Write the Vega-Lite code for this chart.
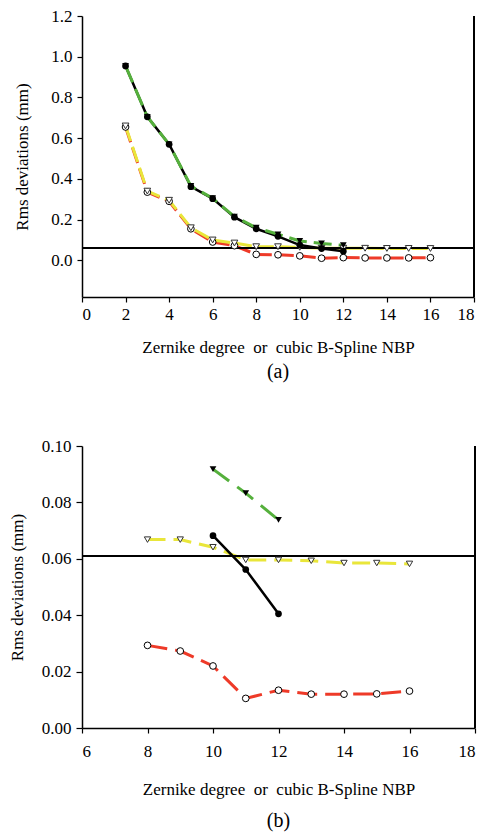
{
  "$schema": "https://vega.github.io/schema/vega-lite/v6.json",
  "background": "white",
  "padding": {"left": 8, "top": 7, "right": 5, "bottom": 5},
  "config": {
    "font": "Liberation Serif",
    "view": {"stroke": null},
    "axis": {
      "grid": false,
      "domainColor": "black",
      "domainWidth": 1.5,
      "tickColor": "black",
      "tickWidth": 1.2,
      "tickSize": 5,
      "labelFont": "Liberation Serif",
      "labelFontSize": 17,
      "labelColor": "black",
      "titleFont": "Liberation Serif",
      "titleFontSize": 17,
      "titleFontWeight": "normal",
      "titleColor": "black"
    },
    "title": {"font": "Liberation Serif", "fontWeight": "normal", "color": "black"}
  },
  "datasets": {
    "top": [
      {"s": "Zernike A", "x": 2, "y": 0.955}, {"s": "Zernike A", "x": 3, "y": 0.705}, {"s": "Zernike A", "x": 4, "y": 0.57},
      {"s": "Zernike A", "x": 5, "y": 0.365}, {"s": "Zernike A", "x": 6, "y": 0.305}, {"s": "Zernike A", "x": 7, "y": 0.215},
      {"s": "Zernike A", "x": 8, "y": 0.16}, {"s": "Zernike A", "x": 9, "y": 0.128}, {"s": "Zernike A", "x": 10, "y": 0.095},
      {"s": "Zernike A", "x": 11, "y": 0.083}, {"s": "Zernike A", "x": 12, "y": 0.074},
      {"s": "Zernike B", "x": 2, "y": 0.955}, {"s": "Zernike B", "x": 3, "y": 0.705}, {"s": "Zernike B", "x": 4, "y": 0.57},
      {"s": "Zernike B", "x": 5, "y": 0.362}, {"s": "Zernike B", "x": 6, "y": 0.303}, {"s": "Zernike B", "x": 7, "y": 0.212},
      {"s": "Zernike B", "x": 8, "y": 0.155}, {"s": "Zernike B", "x": 9, "y": 0.118}, {"s": "Zernike B", "x": 10, "y": 0.075},
      {"s": "Zernike B", "x": 11, "y": 0.058}, {"s": "Zernike B", "x": 12, "y": 0.045},
      {"s": "B-Spline A", "x": 2, "y": 0.66}, {"s": "B-Spline A", "x": 3, "y": 0.34}, {"s": "B-Spline A", "x": 4, "y": 0.295},
      {"s": "B-Spline A", "x": 5, "y": 0.16}, {"s": "B-Spline A", "x": 6, "y": 0.10}, {"s": "B-Spline A", "x": 7, "y": 0.085},
      {"s": "B-Spline A", "x": 8, "y": 0.067}, {"s": "B-Spline A", "x": 9, "y": 0.067}, {"s": "B-Spline A", "x": 10, "y": 0.064},
      {"s": "B-Spline A", "x": 11, "y": 0.0596}, {"s": "B-Spline A", "x": 12, "y": 0.0596}, {"s": "B-Spline A", "x": 13, "y": 0.0593},
      {"s": "B-Spline A", "x": 14, "y": 0.0585}, {"s": "B-Spline A", "x": 15, "y": 0.0585}, {"s": "B-Spline A", "x": 16, "y": 0.0582},
      {"s": "B-Spline B", "x": 2, "y": 0.655}, {"s": "B-Spline B", "x": 3, "y": 0.335}, {"s": "B-Spline B", "x": 4, "y": 0.29},
      {"s": "B-Spline B", "x": 5, "y": 0.155}, {"s": "B-Spline B", "x": 6, "y": 0.09}, {"s": "B-Spline B", "x": 7, "y": 0.072},
      {"s": "B-Spline B", "x": 8, "y": 0.0293}, {"s": "B-Spline B", "x": 9, "y": 0.0273}, {"s": "B-Spline B", "x": 10, "y": 0.022},
      {"s": "B-Spline B", "x": 11, "y": 0.0105}, {"s": "B-Spline B", "x": 12, "y": 0.0134}, {"s": "B-Spline B", "x": 13, "y": 0.012},
      {"s": "B-Spline B", "x": 14, "y": 0.012}, {"s": "B-Spline B", "x": 15, "y": 0.0121}, {"s": "B-Spline B", "x": 16, "y": 0.0131}
    ],
    "bottom": [
      {"s": "Zernike A", "x": 10, "y": 0.0918}, {"s": "Zernike A", "x": 11, "y": 0.0833}, {"s": "Zernike A", "x": 12, "y": 0.0738},
      {"s": "Zernike B", "x": 10, "y": 0.0682}, {"s": "Zernike B", "x": 11, "y": 0.0562}, {"s": "Zernike B", "x": 12, "y": 0.0405},
      {"s": "B-Spline A", "x": 8, "y": 0.0668}, {"s": "B-Spline A", "x": 9, "y": 0.0668}, {"s": "B-Spline A", "x": 10, "y": 0.0641},
      {"s": "B-Spline A", "x": 11, "y": 0.0596}, {"s": "B-Spline A", "x": 12, "y": 0.0596}, {"s": "B-Spline A", "x": 13, "y": 0.0593},
      {"s": "B-Spline A", "x": 14, "y": 0.0585}, {"s": "B-Spline A", "x": 15, "y": 0.0585}, {"s": "B-Spline A", "x": 16, "y": 0.0582},
      {"s": "B-Spline B", "x": 8, "y": 0.0293}, {"s": "B-Spline B", "x": 9, "y": 0.0273}, {"s": "B-Spline B", "x": 10, "y": 0.0220},
      {"s": "B-Spline B", "x": 11, "y": 0.0105}, {"s": "B-Spline B", "x": 12, "y": 0.0134}, {"s": "B-Spline B", "x": 13, "y": 0.0120},
      {"s": "B-Spline B", "x": 14, "y": 0.0120}, {"s": "B-Spline B", "x": 15, "y": 0.0121}, {"s": "B-Spline B", "x": 16, "y": 0.0131}
    ]
  },
  "spacing": 55,
  "vconcat": [
    {
      "width": 392,
      "height": 281,
      "title": {"text": "(a)", "orient": "bottom", "fontSize": 20, "offset": 7},
      "data": {"name": "top"},
      "layer": [
        {
          "transform": [{"filter": "datum.s === 'B-Spline B'"}],
          "mark": {"type": "line", "color": "#ee3a28", "strokeWidth": 3, "strokeDash": [16, 6]},
          "encoding": {
            "x": {"field": "x", "type": "quantitative", "scale": {"domain": [0, 18], "nice": false},
                  "axis": {"values": [0, 2, 4, 6, 8, 10, 12, 14, 16, 18], "labelFont": "Liberation Serif", "labelPadding": 4, "titlePadding": 17,
                           "title": "Zernike degree\u00a0\u00a0or\u00a0\u00a0cubic B-Spline NBP"}},
            "y": {"field": "y", "type": "quantitative", "scale": {"domain": [-0.18, 1.2], "nice": false, "zero": false},
                  "axis": {"values": [0, 0.2, 0.4, 0.6, 0.8, 1.0, 1.2], "format": ".1f", "labelFont": "Liberation Serif", "labelPadding": 5, "titlePadding": 19,
                           "title": "Rms deviations (mm)"}}
          }
        },
        {
          "transform": [{"filter": "datum.s === 'B-Spline A'"}],
          "mark": {"type": "line", "color": "#e9e63a", "strokeWidth": 3, "strokeDash": [16, 6]},
          "encoding": {"x": {"field": "x", "type": "quantitative"}, "y": {"field": "y", "type": "quantitative"}}
        },
        {
          "transform": [{"filter": "datum.s === 'Zernike B'"}],
          "mark": {"type": "line", "color": "black", "strokeWidth": 2.5},
          "encoding": {"x": {"field": "x", "type": "quantitative"}, "y": {"field": "y", "type": "quantitative"}}
        },
        {
          "transform": [{"filter": "datum.s === 'Zernike A'"}],
          "mark": {"type": "line", "color": "#55b03c", "strokeWidth": 3, "strokeDash": [18, 7]},
          "encoding": {"x": {"field": "x", "type": "quantitative"}, "y": {"field": "y", "type": "quantitative"}}
        },
        {
          "mark": {"type": "rule", "color": "black", "strokeWidth": 1.3},
          "encoding": {"y": {"datum": 0.061}}
        },
        {
          "mark": {"type": "rule", "color": "black", "strokeWidth": 1.5},
          "encoding": {"x": {"datum": 18}}
        },
        {
          "transform": [{"filter": "datum.s === 'B-Spline B'"}],
          "mark": {"type": "point", "shape": "circle", "filled": true, "fill": "white", "stroke": "black", "strokeWidth": 1, "size": 45, "opacity": 1},
          "encoding": {"x": {"field": "x", "type": "quantitative"}, "y": {"field": "y", "type": "quantitative"}}
        },
        {
          "transform": [{"filter": "datum.s === 'B-Spline A'"}],
          "mark": {"type": "point", "shape": "triangle-down", "filled": true, "fill": "white", "stroke": "#333333", "strokeWidth": 1, "size": 45, "opacity": 1},
          "encoding": {"x": {"field": "x", "type": "quantitative"}, "y": {"field": "y", "type": "quantitative"}}
        },
        {
          "transform": [{"filter": "datum.s === 'Zernike B'"}],
          "mark": {"type": "point", "shape": "circle", "filled": true, "color": "black", "size": 45, "opacity": 1},
          "encoding": {"x": {"field": "x", "type": "quantitative"}, "y": {"field": "y", "type": "quantitative"}}
        },
        {
          "transform": [{"filter": "datum.s === 'Zernike A'"}],
          "mark": {"type": "point", "shape": "triangle-down", "filled": true, "color": "black", "size": 45, "opacity": 1},
          "encoding": {"x": {"field": "x", "type": "quantitative"}, "y": {"field": "y", "type": "quantitative"}}
        }
      ]
    },
    {
      "width": 393,
      "height": 282,
      "title": {"text": "(b)", "orient": "bottom", "fontSize": 20, "offset": 14},
      "data": {"name": "bottom"},
      "layer": [
        {
          "transform": [{"filter": "datum.s === 'B-Spline B'"}],
          "mark": {"type": "line", "color": "#ee3a28", "strokeWidth": 3, "strokeDash": [20, 8]},
          "encoding": {
            "x": {"field": "x", "type": "quantitative", "scale": {"domain": [6, 18], "nice": false, "zero": false},
                  "axis": {"values": [6, 8, 10, 12, 14, 16, 18], "labelFont": "Liberation Serif", "labelPadding": 10, "titlePadding": 22,
                           "title": "Zernike degree\u00a0\u00a0or\u00a0\u00a0cubic B-Spline NBP"}},
            "y": {"field": "y", "type": "quantitative", "scale": {"domain": [0, 0.1], "nice": false},
                  "axis": {"values": [0, 0.02, 0.04, 0.06, 0.08, 0.1], "format": ".2f", "labelFont": "Liberation Serif", "tickSize": 6, "labelPadding": 5, "titlePadding": 15,
                           "title": "Rms deviations (mm)"}}
          }
        },
        {
          "transform": [{"filter": "datum.s === 'B-Spline A'"}],
          "mark": {"type": "line", "color": "#e9e63a", "strokeWidth": 3, "strokeDash": [18, 8]},
          "encoding": {"x": {"field": "x", "type": "quantitative"}, "y": {"field": "y", "type": "quantitative"}}
        },
        {
          "transform": [{"filter": "datum.s === 'Zernike B'"}],
          "mark": {"type": "line", "color": "black", "strokeWidth": 2.5},
          "encoding": {"x": {"field": "x", "type": "quantitative"}, "y": {"field": "y", "type": "quantitative"}}
        },
        {
          "transform": [{"filter": "datum.s === 'Zernike A'"}],
          "mark": {"type": "line", "color": "#55b03c", "strokeWidth": 3, "strokeDash": [20, 10]},
          "encoding": {"x": {"field": "x", "type": "quantitative"}, "y": {"field": "y", "type": "quantitative"}}
        },
        {
          "mark": {"type": "rule", "color": "black", "strokeWidth": 1.3},
          "encoding": {"y": {"datum": 0.061}}
        },
        {
          "mark": {"type": "rule", "color": "black", "strokeWidth": 1.5},
          "encoding": {"x": {"datum": 18}}
        },
        {
          "transform": [{"filter": "datum.s === 'B-Spline B'"}],
          "mark": {"type": "point", "shape": "circle", "filled": true, "fill": "white", "stroke": "black", "strokeWidth": 1, "size": 45, "opacity": 1},
          "encoding": {"x": {"field": "x", "type": "quantitative"}, "y": {"field": "y", "type": "quantitative"}}
        },
        {
          "transform": [{"filter": "datum.s === 'B-Spline A'"}],
          "mark": {"type": "point", "shape": "triangle-down", "filled": true, "fill": "white", "stroke": "#333333", "strokeWidth": 1, "size": 40, "opacity": 1},
          "encoding": {"x": {"field": "x", "type": "quantitative"}, "y": {"field": "y", "type": "quantitative"}}
        },
        {
          "transform": [{"filter": "datum.s === 'Zernike B'"}],
          "mark": {"type": "point", "shape": "circle", "filled": true, "color": "black", "size": 45, "opacity": 1},
          "encoding": {"x": {"field": "x", "type": "quantitative"}, "y": {"field": "y", "type": "quantitative"}}
        },
        {
          "transform": [{"filter": "datum.s === 'Zernike A'"}],
          "mark": {"type": "point", "shape": "triangle-down", "filled": true, "color": "black", "size": 45, "opacity": 1},
          "encoding": {"x": {"field": "x", "type": "quantitative"}, "y": {"field": "y", "type": "quantitative"}}
        }
      ]
    }
  ]
}
